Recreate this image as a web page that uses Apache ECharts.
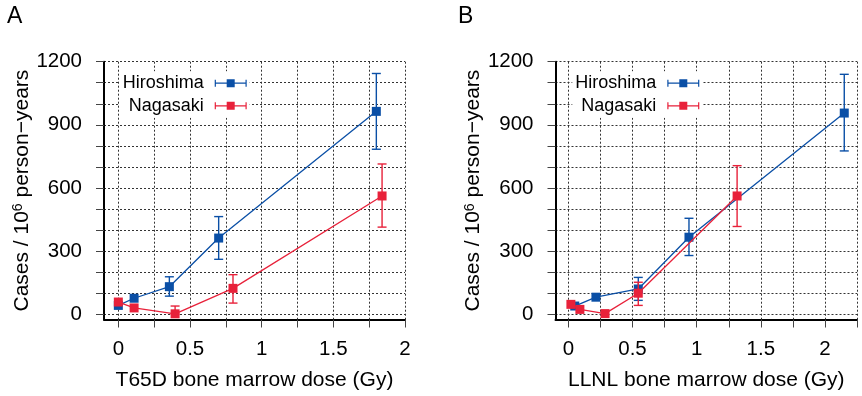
<!DOCTYPE html>
<html>
<head>
<meta charset="utf-8">
<script src="https://cdn.jsdelivr.net/npm/echarts@6/dist/echarts.min.js"></script>
<style>html,body{margin:0;padding:0;background:#fff;}#c{width:862px;height:396px;}</style>
</head>
<body>
<div id="c"></div>
<script>
// ---- data ----
const cities = ['Hiroshima', 'Nagasaki'];

// Panel A: T65D bone marrow dose
const t65dHiroDose = [0, 0.11, 0.356, 0.70, 1.80];
const t65dHiroCases = [42, 76, 131, 362, 964];
const t65dHiroLow = [null, null, 86, 261, 784];
const t65dHiroHigh = [null, null, 178, 464, 1144];

const t65dNagaDose = [0, 0.11, 0.396, 0.80, 1.84];
const t65dNagaCases = [58, 30, 2, 123, 562];
const t65dNagaLow = [null, null, 0, 53, 414];
const t65dNagaHigh = [null, null, 39, 188, 714];

// Panel B: LLNL bone marrow dose
const llnlHiroDose = [0.05, 0.215, 0.545, 0.94, 2.15];
const llnlHiroCases = [39, 81, 120, 366, 956];
const llnlHiroLow = [null, null, 66, 279, 776];
const llnlHiroHigh = [null, null, 175, 456, 1140];

const llnlNagaDose = [0.02, 0.09, 0.286, 0.545, 1.315];
const llnlNagaCases = [47, 23, 3, 100, 562];
const llnlNagaLow = [null, null, null, 42, 417];
const llnlNagaHigh = [null, null, null, 152, 706];

// ticks
const yTickValues = [0, 100, 200, 300, 400, 500, 600, 700, 800, 900, 1000, 1100, 1200];
const yLabelValues = [0, 300, 600, 900, 1200];
const xTickValuesA = [0, 0.25, 0.5, 0.75, 1, 1.25, 1.5, 1.75, 2];
const xTickValuesB = [0, 0.25, 0.5, 0.75, 1, 1.25, 1.5, 1.75, 2, 2.25];
const xLabelValues = [0, 0.5, 1, 1.5, 2];

const panelTitles = ['A', 'B'];
const xNames = ['T65D bone marrow dose (Gy)', 'LLNL bone marrow dose (Gy)'];
const yName = 'Cases / 10{s|6} person\u2212years';

// ---- styling ----
const FONT = "'Liberation Sans', Arial, Helvetica, sans-serif";
const BLUE = '#0a4fa6';
const RED = '#e8213a';
const GRID_LINE = { color: '#333', width: 1, type: [2, 2] };

function pairs(xs, ys) { return xs.map((x, i) => [x, ys[i]]); }
function errs(xs, lo, hi) {
  const out = [];
  xs.forEach((x, i) => { if (lo[i] != null && hi[i] != null) out.push([x, lo[i], hi[i]]); });
  return out;
}
function plain(v) { return String(v); }

function xAxisFor(idx, max, ticks) {
  return {
    type: 'value', gridIndex: idx, min: -0.1, max: max,
    axisLine: { show: true, onZero: false, lineStyle: { color: '#000', width: 2 } },
    axisTick: { show: true, customValues: ticks, length: 8, lineStyle: { color: '#444', width: 1 } },
    axisLabel: { customValues: xLabelValues, formatter: plain, margin: 19, color: '#000', fontSize: 20.5, fontFamily: FONT },
    splitLine: { show: true, lineStyle: GRID_LINE },
    name: xNames[idx], nameLocation: 'middle', nameGap: 50.5,
    nameTextStyle: { color: '#000', fontSize: 21, fontFamily: FONT }
  };
}
function yAxisFor(idx) {
  return {
    type: 'value', gridIndex: idx, min: -25, max: 1200,
    axisLine: { show: true, onZero: false, lineStyle: { color: '#000', width: 2 } },
    axisTick: { show: true, customValues: yTickValues, length: 8, lineStyle: { color: '#444', width: 1 } },
    axisLabel: { customValues: yLabelValues, formatter: plain, margin: 22, color: '#000', fontSize: 20.5, fontFamily: FONT },
    splitLine: { show: true, lineStyle: GRID_LINE },
    name: yName, nameLocation: 'middle', nameGap: 68,
    nameTextStyle: {
      color: '#000', fontSize: 21, fontFamily: FONT, lineHeight: 21,
      rich: { s: { fontSize: 14, lineHeight: 6, verticalAlign: 'top', color: '#000', fontFamily: FONT } }
    }
  };
}

function lineSeries(name, idx, data, color, z) {
  return {
    name: name, type: 'line', xAxisIndex: idx, yAxisIndex: idx, data: data,
    symbol: 'rect', symbolSize: 9, z: z,
    lineStyle: { color: color, width: 1.3 },
    itemStyle: { color: color, borderWidth: 0 },
    clip: false
  };
}
function errSeries(name, idx, data, color, z) {
  return {
    name: name, type: 'custom', xAxisIndex: idx, yAxisIndex: idx, data: data, z: z,
    encode: { x: 0, y: [1, 2] }, clip: false,
    renderItem: function (params, api) {
      const x = api.value(0), lo = api.value(1), hi = api.value(2);
      const a = api.coord([x, lo]), b = api.coord([x, hi]);
      const w = 4.5;
      const st = { stroke: color, lineWidth: 1.4, fill: null };
      return {
        type: 'group', children: [
          { type: 'line', shape: { x1: a[0], y1: a[1], x2: b[0], y2: b[1] }, style: st },
          { type: 'line', shape: { x1: b[0] - w, y1: b[1], x2: b[0] + w, y2: b[1] }, style: st },
          { type: 'line', shape: { x1: a[0] - w, y1: a[1], x2: a[0] + w, y2: a[1] }, style: st }
        ]
      };
    }
  };
}

const ICON = 'path://M0 0 L0.01 0 L0 9 Z M6 1 H7.2 V3.9 H18 V0.5 H26 V3.9 H36.8 V1 H38 V8 H36.8 V5.1 H26 V8.5 H18 V5.1 H7.2 V8 H6 Z';
function legendFor(right) {
  return {
    data: cities, orient: 'vertical', align: 'right', right: right, top: 71.2,
    padding: 3, itemGap: 4.6, itemWidth: 38, itemHeight: 9, icon: ICON,
    backgroundColor: '#fff', selectedMode: false,
    itemStyle: { borderWidth: 0 },
    textStyle: { color: '#000', fontSize: 18, fontFamily: FONT, lineHeight: 18 }
  };
}

const titleStyle = { fontSize: 23, fontWeight: 'normal', color: '#000', fontFamily: FONT, lineHeight: 23 };
const option = {
  animation: false,
  backgroundColor: '#fff',
  title: [
    { text: panelTitles[0], left: 7, top: 5.5, padding: 0, textStyle: titleStyle },
    { text: panelTitles[1], left: 458, top: 5.5, padding: 0, textStyle: titleStyle }
  ],
  grid: [
    { left: 104, top: 61.7, width: 301, height: 261, containLabel: false },
    { left: 555.5, top: 61.7, width: 301.6, height: 261, containLabel: false }
  ],
  legend: [legendFor(612.3), legendFor(159.7)],
  xAxis: [xAxisFor(0, 2, xTickValuesA), xAxisFor(1, 2.25, xTickValuesB)],
  yAxis: [yAxisFor(0), yAxisFor(1)],
  series: [
    errSeries('Hiroshima error A', 0, errs(t65dHiroDose, t65dHiroLow, t65dHiroHigh), BLUE, 2),
    lineSeries(cities[0], 0, pairs(t65dHiroDose, t65dHiroCases), BLUE, 3),
    errSeries('Nagasaki error A', 0, errs(t65dNagaDose, t65dNagaLow, t65dNagaHigh), RED, 4),
    lineSeries(cities[1], 0, pairs(t65dNagaDose, t65dNagaCases), RED, 5),
    errSeries('Hiroshima error B', 1, errs(llnlHiroDose, llnlHiroLow, llnlHiroHigh), BLUE, 2),
    lineSeries(cities[0], 1, pairs(llnlHiroDose, llnlHiroCases), BLUE, 3),
    errSeries('Nagasaki error B', 1, errs(llnlNagaDose, llnlNagaLow, llnlNagaHigh), RED, 4),
    lineSeries(cities[1], 1, pairs(llnlNagaDose, llnlNagaCases), RED, 5)
  ]
};

const chart = echarts.init(document.getElementById('c'), null, { renderer: 'canvas' });
chart.setOption(option);
</script>
</body>
</html>
